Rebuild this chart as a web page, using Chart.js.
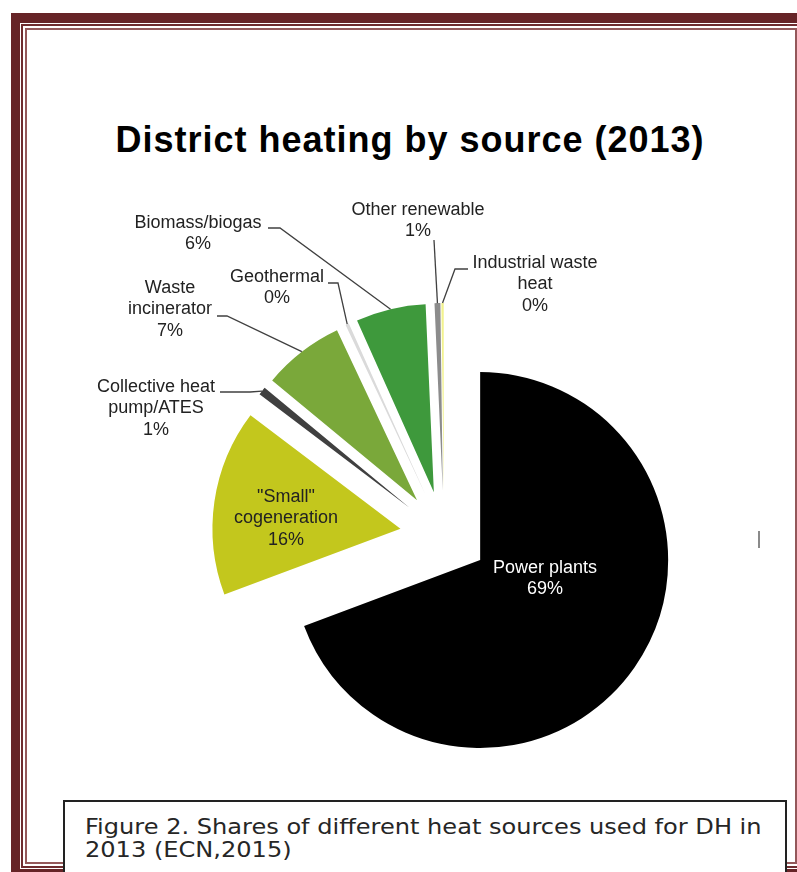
<!DOCTYPE html>
<html>
<head>
<meta charset="utf-8">
<title>District heating by source (2013)</title>
<script src="https://cdn.jsdelivr.net/npm/chart.js@4.4.1/dist/chart.umd.min.js"></script>
<style>
  html, body { margin: 0; padding: 0; background: #fff; overflow: hidden; }
  body { width: 797px; height: 872px; position: relative; }
  .edge { position: absolute; box-sizing: border-box; border-style: solid; }
  #band { left: 11px; top: 13px; width: 820px; height: 865px; border-color: #662427; border-width: 10px 0 9px 9px; }
  #line1 { left: 21px; top: 24px; width: 800px; height: 844px; border-color: #6f2c2f; border-width: 2px 0 2px 2px; }
  #line2 { left: 25px; top: 28px; width: 772px; height: 836px; border-color: #93585a; border-width: 2px; }
  #chart { position: absolute; left: 0; top: 0; }
  #heading {
    position: absolute; left: 0; top: 122px; width: 820px; text-align: center;
    font: bold 36px 'Liberation Sans', Arial, sans-serif; line-height: 36px;
    letter-spacing: 1px; color: #000;
  }
  #cursor { position: absolute; left: 758px; top: 531px; width: 2px; height: 17px; background: #8a8a8a; }
  #caption {
    position: absolute; left: 63px; top: 800px; width: 724px; height: 90px;
    box-sizing: border-box; border: 2px solid #222; background: #fff;
    padding: 14px 0 0 20px; font: 21px 'DejaVu Sans', Verdana, sans-serif;
    line-height: 23px; color: #262626; white-space: nowrap;
  }
  #caption span { display: inline-block; transform: scaleX(1.146); transform-origin: left top; }
</style>
</head>
<body>
<div class="edge" id="band"></div>
<div class="edge" id="line1"></div>
<div class="edge" id="line2"></div>
<div id="heading">District heating by source (2013)</div>
<canvas id="chart" width="797" height="872"></canvas>
<div id="cursor"></div>
<div id="caption"><span>Figure 2. Shares of different heat sources used for DH in<br>2013 (ECN,2015)</span></div>

<script>
// shares in percent, clockwise from 12 o'clock
const categories = ['Power plants', '"Small" cogeneration', 'Collective heat pump/ATES', 'Waste incinerator',
    'Geothermal', 'Biomass/biogas', 'Other renewable', 'Industrial waste heat'];
const shares = [69.3, 16.0, 0.7, 7.0, 0.3, 6.0, 0.5, 0.2];

const sliceColors = ['#000000', '#c3c71d', '#404040', '#7aa83a', '#dadada', '#3e993c', '#8c8c8c', '#f2f28e'];
const EXPLODE = 44;   // every slice pulled out from the centre by this much
const LINE_H = 21.5;

// where each label sits; "from"/"elbow" draw a leader line back to the slice
const labelLayout = [
    { x: 545, y: 568, color: '#ffffff', wrap: 140 },
    { x: 286, y: 497, wrap: 110 },
    { x: 156, y: 387, wrap: 130, from: [220, 392], elbow: [250, 392] },
    { x: 170, y: 288, wrap: 100, from: [217, 316], elbow: [227, 316] },
    { x: 277, y: 277, wrap: 140, from: [328, 283], elbow: [338, 283] },
    { x: 198, y: 223, wrap: 150, from: [268, 228], elbow: [280, 228] },
    { x: 418, y: 210, wrap: 160, from: [434, 240] },
    { x: 535, y: 263, wrap: 135, from: [468, 269], elbow: [455, 269] }
];

const wrapText = (ctx, text, maxWidth) => {
    const words = text.split(' ');
    const lines = [];
    let current = '';
    words.forEach(word => {
        const test = current ? current + ' ' + word : word;
        if (current && ctx.measureText(test).width > maxWidth) {
            lines.push(current);
            current = word;
        } else {
            current = test;
        }
    });
    lines.push(current);
    return lines;
};

const explodeSlices = {
    id: 'explodeSlices',
    beforeDatasetsDraw(chart) {
        const area = chart.chartArea;
        const cx = (area.left + area.right) / 2;
        const cy = (area.top + area.bottom) / 2;
        chart.getDatasetMeta(0).data.forEach(arc => {
            const mid = (arc.startAngle + arc.endAngle) / 2;
            arc.x = cx + Math.cos(mid) * EXPLODE;
            arc.y = cy + Math.sin(mid) * EXPLODE;
        });
    }
};

const sliceLabels = {
    id: 'sliceLabels',
    afterDatasetsDraw(chart) {
        const ctx = chart.ctx;
        const arcs = chart.getDatasetMeta(0).data;
        ctx.save();
        ctx.font = '18px "Liberation Sans", Arial, sans-serif';
        ctx.textAlign = 'center';
        ctx.textBaseline = 'middle';
        arcs.forEach((arc, i) => {
            const layout = labelLayout[i];
            if (layout.from) {
                const mid = (arc.startAngle + arc.endAngle) / 2;
                const ex = arc.x + Math.cos(mid) * arc.outerRadius;
                const ey = arc.y + Math.sin(mid) * arc.outerRadius;
                ctx.strokeStyle = '#404040';
                ctx.lineWidth = 1.3;
                ctx.beginPath();
                ctx.moveTo(layout.from[0], layout.from[1]);
                if (layout.elbow) ctx.lineTo(layout.elbow[0], layout.elbow[1]);
                ctx.lineTo(ex, ey);
                ctx.stroke();
            }
            const lines = wrapText(ctx, categories[i], layout.wrap);
            lines.push(Math.round(shares[i]) + '%');
            ctx.fillStyle = layout.color || '#222222';
            lines.forEach((line, k) => {
                ctx.fillText(line, layout.x, layout.y + k * LINE_H);
            });
        });
        ctx.restore();
    }
};

new Chart(document.getElementById('chart'), {
    type: 'pie',
    data: {
        labels: categories,
        datasets: [{
            data: shares,
            backgroundColor: sliceColors,
            borderWidth: 0,
            hoverOffset: 0,
            clip: false
        }]
    },
    options: {
        responsive: false,
        animation: false,
        radius: 188,
        layout: { padding: { left: 120, right: 29, top: 250, bottom: 52 } },
        plugins: {
            legend: { display: false },
            tooltip: { enabled: false },
            title: { display: false }
        },
        events: []
    },
    plugins: [explodeSlices, sliceLabels]
});
</script>
</body>
</html>
